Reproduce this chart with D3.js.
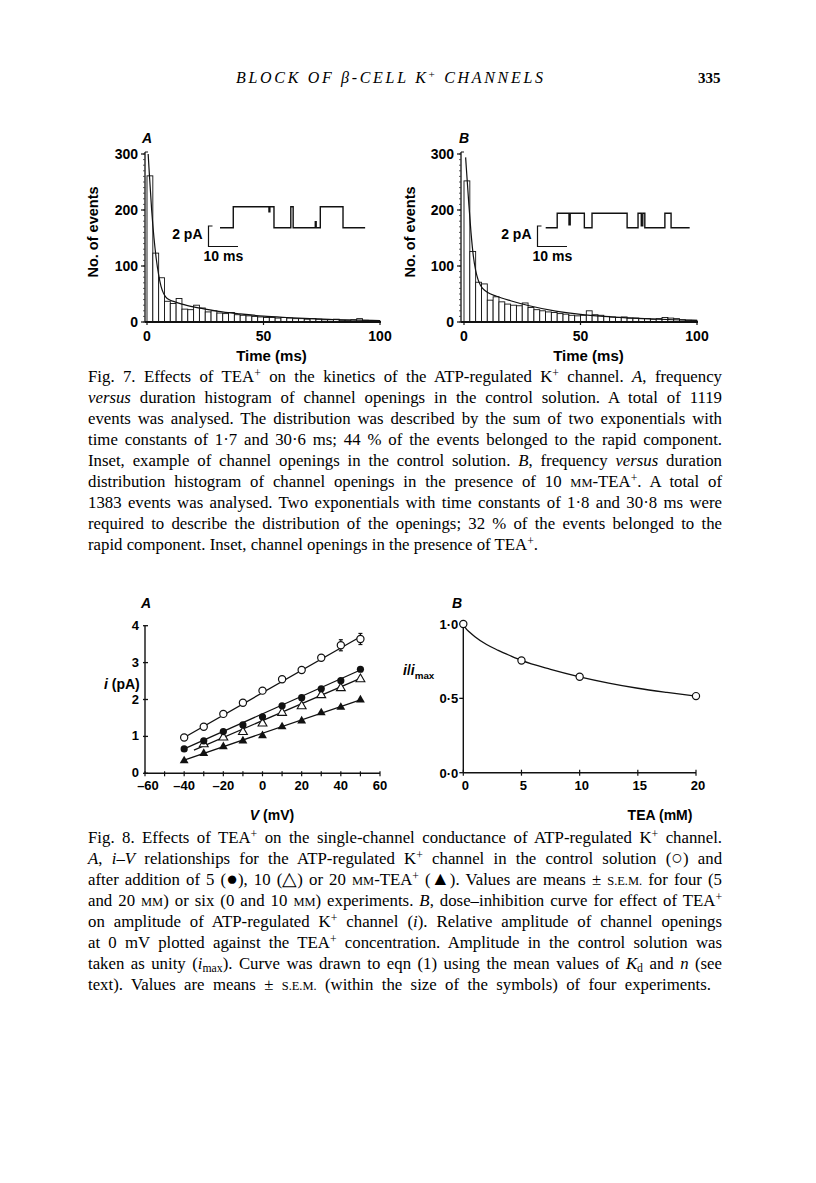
<!DOCTYPE html>
<html><head><meta charset="utf-8">
<script src="https://cdn.jsdelivr.net/npm/d3@7"></script>
<style>body{margin:0;background:#fff}svg{display:block}</style>
</head><body><svg id="c" width="816" height="1183"></svg>
<script>
// ---------------- DATA ----------------
// Fig 7: histogram bin starts (ms), bin width 2.5 ms
const binStarts = [0,2.5,5,7.5,10,12.5,15,17.5,20,22.5,25,27.5,30,32.5,35,37.5,40,42.5,45,47.5,50,52.5,55,57.5,60,62.5,65,67.5,70,72.5,75,77.5,80,82.5,85,87.5,90,92.5,95,97.5];
const binWidth = 2.5;
const histA = [261,123,79,37,33,42,23,22,30,25,18,20,16,15,17,13,12,11,10,9,8,8,7,8,7,6,6,5,6,5,4,4,5,3,3,4,6,3,2,2];
const histB = [252,126,71,68,39,45,36,32,30,29,34,26,22,20,18,17,15,14,12,11,12,20,13,12,10,9,8,9,7,7,6,6,5,6,8,7,6,4,3,3];
const fitA = [[0.5,300],[1,265],[2,200],[3,150],[4,112],[5,84],[6,64],[7,52],[8,45],[10,39],[12,36],[15,32],[20,27],[25,23],[30,19.5],[40,14.5],[50,10.5],[60,8],[70,6],[80,4.5],[90,3.3],[100,2.5]];
const fitB = [[0.7,294],[1,275],[2,215],[3,160],[4,118],[5,92],[6,76],[7,66],[8,60],[10,53],[14,46],[20,38],[28,29],[40,19],[50,13.5],[60,10],[70,7.5],[80,5.5],[90,4],[100,3]];
const histYTicks = [0,100,200,300];
const histXTicks = [0,50,100];
// inset traces: [time ms, current pA] step points
const traceA = [[0,0],[4.5,2.1],[16.6,1.6],[16.9,2.1],[18.3,0],[24,2.1],[24.8,0],[32.3,0.6],[32.6,0],[34,2.1],[41.7,0],[49.2,0]];
const traceB = [[0,0],[3.9,1.45],[7.9,0.3],[8.3,1.45],[13.1,0],[15.7,1.45],[27.6,0],[31.3,1.45],[32.4,0.2],[32.9,1.45],[33.6,0],[40.4,1.45],[42.5,0],[48.8,0]];

// Fig 8A: i-V
const V = [-40,-30,-20,-10,0,10,20,30,40,50];
const iCtrl = [0.97,1.26,1.61,1.91,2.24,2.55,2.80,3.13,3.47,3.64];
const iCtrlErr = [0,0,0,0,0,0,0,0,0.15,0.15];
const iTEA5 = [0.66,0.88,1.13,1.31,1.53,1.83,2.05,2.29,2.51,2.82];
const V10 = [-30,-20,-10,0,10,20,30,40,50];
const iTEA10 = [0.79,0.97,1.12,1.35,1.64,1.82,2.12,2.31,2.55];
const iTEA20 = [0.34,0.54,0.72,0.88,1.02,1.26,1.42,1.64,1.79,1.99];
const fitCtrl = [[-40,0.97],[50,3.70]];
const fit5 = [[-40,0.66],[50,2.80]];
const fit10 = [[-35,0.63],[50,2.57]];
const fit20 = [[-40,0.36],[50,1.99]];
const ivXTicks = [-60,-40,-20,0,20,40,60];
const ivXMinor = [-60,-50,-40,-30,-20,-10,0,10,20,30,40,50,60];
const ivYTicks = [0,1,2,3,4];

// Fig 8B: dose-inhibition
const tea = [0,5,10,20];
const relI = [1.0,0.755,0.645,0.515];
const doseCurve = [[0,1],[0.25,0.967],[0.5,0.948],[1,0.915],[2,0.862],[3,0.823],[4,0.788],[5,0.755],[7.5,0.695],[10,0.645],[12.5,0.603],[15,0.568],[17.5,0.54],[20,0.515]];
const teaTicks = [0,5,10,15,20];
const relTicks = [0,0.5,1.0];

// ---------------- TEXT ----------------
const header = "*BLOCK OF β-CELL K*^{+}* CHANNELS*";
const caption7 = [
 "Fig. 7. Effects of TEA^{+} on the kinetics of the ATP-regulated K^{+} channel. *A*, frequency",
 "*versus* duration histogram of channel openings in the control solution. A total of 1119",
 "events was analysed. The distribution was described by the sum of two exponentials with",
 "time constants of 1·7 and 30·6 ms; 44 % of the events belonged to the rapid component.",
 "Inset, example of channel openings in the control solution. *B*, frequency *versus* duration",
 "distribution histogram of channel openings in the presence of 10 ~mm~-TEA^{+}. A total of",
 "1383 events was analysed. Two exponentials with time constants of 1·8 and 30·8 ms were",
 "required to describe the distribution of the openings; 32 % of the events belonged to the",
 "rapid component. Inset, channel openings in the presence of TEA^{+}."
];
const widths7 = [634,634,634,634,634,634,634,634,0];
const caption8 = [
 "Fig. 8. Effects of TEA^{+} on the single-channel conductance of ATP-regulated K^{+} channel.",
 "*A*, *i*–*V* relationships for the ATP-regulated K^{+} channel in the control solution (@{○}) and",
 "after addition of 5 (@{●}), 10 (@{△}) or 20 ~mm~-TEA^{+} (@{▲}). Values are means ± ~s.e.m.~ for four (5",
 "and 20 ~mm~) or six (0 and 10 ~mm~) experiments. *B*, dose–inhibition curve for effect of TEA^{+}",
 "on amplitude of ATP-regulated K^{+} channel (*i*). Relative amplitude of channel openings",
 "at 0 mV plotted against the TEA^{+} concentration. Amplitude in the control solution was",
 "taken as unity (*i*_{max}). Curve was drawn to eqn (1) using the mean values of *K*_{d} and *n* (see",
 "text). Values are means ± ~s.e.m.~ (within the size of the symbols) of four experiments."
];
const widths8 = [634,634,634,634,634,634,634,623];

// ---------------- DRAW ----------------
const svg = d3.select('#c');
svg.append('rect').attr('width',816).attr('height',1183).attr('fill','#fff');
const SANS = "'Liberation Sans', Arial, Helvetica, sans-serif";
const SERIF = "'Liberation Serif', 'Times New Roman', serif";

function rich(t, str, supShift=5, subShift=3) {
  const re = /\^\{([^}]*)\}|_\{([^}]*)\}|@\{([^}]*)\}|\*([^*]*)\*|~([^~]*)~|([^\^_*~@]+)/g;
  let m, shift = 0;
  while ((m = re.exec(str))) {
    let txt, italic=false, size=null, dy=0;
    if (m[1]!==undefined){ txt=m[1]; size='0.7em'; dy=-supShift; }
    else if (m[2]!==undefined){ txt=m[2]; size='0.7em'; dy=subShift; }
    else if (m[3]!==undefined){ txt=m[3]; size='1.15em'; }
    else if (m[4]!==undefined){ txt=m[4]; italic=true; }
    else if (m[5]!==undefined){ txt=m[5].toUpperCase(); size='0.74em'; }
    else txt=m[6];
    const ts = t.append('tspan').text(txt);
    const need = dy - shift; if (need) ts.attr('dy', need); shift = dy;
    if (italic) ts.attr('font-style','italic');
    if (size) ts.attr('font-size', size);
  }
  return t;
}
function justify(t, width) {
  const natural = t.node().getComputedTextLength();
  const spaces = (t.text().match(/ /g) || []).length;
  if (spaces > 0 && width > natural) t.style('word-spacing', ((width - natural) / spaces) + 'px');
  else if (width < natural) t.attr('textLength', width).attr('lengthAdjust','spacingAndGlyphs');
}

// header
const ht = svg.append('text').attr('x',236).attr('y',83).attr('font-family',SERIF).attr('font-size',16)
  .style('white-space','pre').attr('textLength',307).attr('lengthAdjust','spacing');
rich(ht, header, 5);
svg.append('text').attr('x',698).attr('y',83).attr('font-family',SERIF).attr('font-size',15).attr('font-weight','bold').text('335');

// captions
function caption(lines, widths, y0, step) {
  lines.forEach((s,i) => {
    const t = svg.append('text').attr('x',88).attr('y',y0+i*step).attr('font-family',SERIF)
      .attr('font-size',16.8).style('white-space','pre');
    rich(t, s, 5, 3);
    if (widths[i]) justify(t, widths[i]);
  });
}
caption(caption7, widths7, 382, 21);
caption(caption8, widths8, 843, 21);

// ---------- Fig 7 histograms ----------
function histPanel(opt) {
  const g = svg.append('g');
  const x = d3.scaleLinear([0,100],[opt.x0,opt.x1]);
  const y = d3.scaleLinear([0,300],[322,154]);
  g.selectAll('rect.bar').data(opt.hist).join('rect')
    .attr('x',(d,i)=>x(binStarts[i])).attr('width',x(binWidth)-x(0))
    .attr('y',d=>y(d)).attr('height',d=>y(0)-y(d))
    .attr('fill','#fff').attr('stroke','#111').attr('stroke-width',0.9);
  g.append('path').datum(opt.fit)
    .attr('d', d3.line().x(d=>x(d[0])).y(d=>y(d[1])).curve(d3.curveMonotoneX))
    .attr('fill','none').attr('stroke','#111').attr('stroke-width',1.2);
  const ax = opt.ax;
  g.append('line').attr('x1',ax).attr('x2',ax).attr('y1',y(0)).attr('y2',y(300)-2).attr('stroke','#111').attr('stroke-width',1.3);
  g.append('line').attr('x1',ax).attr('x2',ax+3).attr('y1',y(300)-2).attr('y2',y(300)-2).attr('stroke','#111').attr('stroke-width',1);
  g.selectAll('line.mn').data(d3.range(0,301,10)).join('line')
    .attr('x1',ax-2).attr('x2',ax).attr('y1',d=>y(d)).attr('y2',d=>y(d)).attr('stroke','#333').attr('stroke-width',0.8);
  g.selectAll('line.mj').data(histYTicks).join('line')
    .attr('x1',ax-4).attr('x2',ax).attr('y1',d=>y(d)).attr('y2',d=>y(d)).attr('stroke','#111').attr('stroke-width',1.2);
  g.selectAll('text.yt').data(histYTicks).join('text')
    .attr('x',ax-7).attr('y',d=>y(d)+5).attr('text-anchor','end')
    .attr('font-family',SANS).attr('font-weight','bold').attr('font-size',14).text(d=>d);
  g.append('line').attr('x1',ax).attr('x2',x(100)+1).attr('y1',y(0)).attr('y2',y(0)).attr('stroke','#111').attr('stroke-width',2);
  g.selectAll('line.xt').data(histXTicks).join('line')
    .attr('x1',d=>x(d)).attr('x2',d=>x(d)).attr('y1',y(0)).attr('y2',y(0)+3).attr('stroke','#111').attr('stroke-width',1.2);
  g.selectAll('text.xt').data(histXTicks).join('text')
    .attr('x',d=>x(d)).attr('y',341).attr('text-anchor','middle')
    .attr('font-family',SANS).attr('font-weight','bold').attr('font-size',14).text(d=>d);
  g.append('text').attr('x',(x(0)+x(100))/2+8).attr('y',361).attr('text-anchor','middle')
    .attr('font-family',SANS).attr('font-weight','bold').attr('font-size',15).text('Time (ms)');
  g.append('text').attr('transform',`translate(${opt.ylx},232) rotate(-90)`).attr('text-anchor','middle')
    .attr('font-family',SANS).attr('font-weight','bold').attr('font-size',14.5).text('No. of events');
  g.append('text').attr('x',opt.lx).attr('y',143).attr('text-anchor','middle')
    .attr('font-family',SANS).attr('font-weight','bold').attr('font-style','italic').attr('font-size',14).text(opt.letter);
  const tx = d3.scaleLinear([0,10],[opt.tr0, opt.tr0+29.5]);
  const ty = d3.scaleLinear([0,2],[227.7,207.7]);
  g.append('path').datum(opt.trace)
    .attr('d', d3.line().x(d=>tx(d[0])).y(d=>ty(d[1])).curve(d3.curveStepAfter))
    .attr('fill','none').attr('stroke','#111').attr('stroke-width',1.4);
  const sb = opt.sb;
  g.append('path').attr('d',`M${sb+4},226 H${sb} V246.5 H${sb+29.5}`).attr('fill','none').attr('stroke','#111').attr('stroke-width',1.2);
  g.append('text').attr('x',sb-6).attr('y',239).attr('text-anchor','end')
    .attr('font-family',SANS).attr('font-weight','bold').attr('font-size',14).text('2 pA');
  g.append('text').attr('x',sb-5).attr('y',261)
    .attr('font-family',SANS).attr('font-weight','bold').attr('font-size',14).text('10 ms');
}
histPanel({x0:147,x1:380,ax:145,hist:histA,fit:fitA,ylx:98,lx:147,letter:'A',trace:traceA,tr0:220,sb:208.5});
histPanel({x0:464,x1:697,ax:461,hist:histB,fit:fitB,ylx:415,lx:464,letter:'B',trace:traceB,tr0:545.7,sb:537.5});

// ---------- Fig 8A ----------
(function(){
  const g = svg.append('g');
  const x = d3.scaleLinear([-60,60],[145,380]);
  const y = d3.scaleLinear([0,4],[773.3,625.7]);
  const ln = d3.line().x(d=>x(d[0])).y(d=>y(d[1]));
  g.append('line').attr('x1',x(-60)).attr('x2',x(-60)).attr('y1',y(0)).attr('y2',y(4)).attr('stroke','#111').attr('stroke-width',1.4);
  g.append('line').attr('x1',x(-60)).attr('x2',x(60)).attr('y1',y(0)).attr('y2',y(0)).attr('stroke','#111').attr('stroke-width',1.4);
  g.selectAll('line.yt').data(ivYTicks).join('line')
    .attr('x1',x(-60)-2).attr('x2',x(-60)+3).attr('y1',d=>y(d)).attr('y2',d=>y(d)).attr('stroke','#111').attr('stroke-width',1.3);
  g.selectAll('line.xt').data(ivXMinor).join('line')
    .attr('x1',d=>x(d)).attr('x2',d=>x(d)).attr('y1',y(0)-2).attr('y2',y(0)+3).attr('stroke','#111').attr('stroke-width',1.2);
  g.selectAll('text.yt').data(ivYTicks).join('text')
    .attr('x',x(-60)-6).attr('y',d=>y(d)+4).attr('text-anchor','end')
    .attr('font-family',SANS).attr('font-weight','bold').attr('font-size',13).text(d=>d);
  g.selectAll('text.xt').data(ivXTicks).join('text')
    .attr('x',d=>x(d)+(d===-60?3:0)).attr('y',790).attr('text-anchor','middle')
    .attr('font-family',SANS).attr('font-weight','bold').attr('font-size',13).text(d=>d<0?'–'+(-d):d);
  [fitCtrl,fit5,fit10,fit20].forEach(f=>g.append('path').attr('d',ln(f)).attr('stroke','#111').attr('stroke-width',1.3).attr('fill','none'));
  V.forEach((v,i)=>{ if(iCtrlErr[i]>0){
    g.append('line').attr('x1',x(v)).attr('x2',x(v)).attr('y1',y(iCtrl[i]-iCtrlErr[i])).attr('y2',y(iCtrl[i]+iCtrlErr[i])).attr('stroke','#111').attr('stroke-width',1.2);
    [iCtrl[i]-iCtrlErr[i], iCtrl[i]+iCtrlErr[i]].forEach(e=>g.append('line').attr('x1',x(v)-2).attr('x2',x(v)+2).attr('y1',y(e)).attr('y2',y(e)).attr('stroke','#111').attr('stroke-width',1.2));
  }});
  const tri = d3.symbol().type(d3.symbolTriangle).size(34)();
  g.selectAll('path.t20').data(V.map((v,i)=>[v,iTEA20[i]])).join('path').attr('d',tri)
    .attr('transform',d=>`translate(${x(d[0])},${y(d[1])})`).attr('fill','#111');
  g.selectAll('path.t10').data(V10.map((v,i)=>[v,iTEA10[i]])).join('path').attr('d',tri)
    .attr('transform',d=>`translate(${x(d[0])},${y(d[1])})`).attr('fill','#fff').attr('stroke','#111').attr('stroke-width',1.1);
  g.selectAll('circle.t5').data(V.map((v,i)=>[v,iTEA5[i]])).join('circle').attr('r',3.6)
    .attr('cx',d=>x(d[0])).attr('cy',d=>y(d[1])).attr('fill','#111');
  g.selectAll('circle.c').data(V.map((v,i)=>[v,iCtrl[i]])).join('circle').attr('r',3.6)
    .attr('cx',d=>x(d[0])).attr('cy',d=>y(d[1])).attr('fill','#fff').attr('stroke','#111').attr('stroke-width',1.2);
  g.append('text').attr('x',146).attr('y',608).attr('text-anchor','middle')
    .attr('font-family',SANS).attr('font-weight','bold').attr('font-style','italic').attr('font-size',14).text('A');
  rich(g.append('text').attr('x',104).attr('y',689).attr('font-family',SANS).attr('font-weight','bold').attr('font-size',14).style('white-space','pre'), '*i* (pA)');
  rich(g.append('text').attr('x',272).attr('y',820).attr('text-anchor','middle').attr('font-family',SANS).attr('font-weight','bold').attr('font-size',14).style('white-space','pre'), '*V* (mV)');
})();

// ---------- Fig 8B ----------
(function(){
  const g = svg.append('g');
  const x = d3.scaleLinear([0,20],[463.3,696]);
  const y = d3.scaleLinear([0,1],[772.7,624]);
  g.append('line').attr('x1',x(0)).attr('x2',x(0)).attr('y1',y(0)).attr('y2',y(1)).attr('stroke','#111').attr('stroke-width',1.4);
  g.append('line').attr('x1',x(0)).attr('x2',x(20)).attr('y1',y(0)).attr('y2',y(0)).attr('stroke','#111').attr('stroke-width',1.4);
  g.selectAll('line.yt').data(relTicks).join('line')
    .attr('x1',x(0)-4).attr('x2',x(0)).attr('y1',d=>y(d)).attr('y2',d=>y(d)).attr('stroke','#111').attr('stroke-width',1.3);
  g.selectAll('line.xt').data(teaTicks).join('line')
    .attr('x1',d=>x(d)).attr('x2',d=>x(d)).attr('y1',y(0)-3).attr('y2',y(0)+3).attr('stroke','#111').attr('stroke-width',1.2);
  g.selectAll('text.yt').data(relTicks).join('text')
    .attr('x',x(0)-5).attr('y',d=>y(d)+5).attr('text-anchor','end')
    .attr('font-family',SANS).attr('font-weight','bold').attr('font-size',13).text(d=>d3.format('.1f')(d).replace('.','·'));
  g.selectAll('text.xt').data(teaTicks).join('text')
    .attr('x',d=>x(d)+2).attr('y',790).attr('text-anchor','middle')
    .attr('font-family',SANS).attr('font-weight','bold').attr('font-size',13).text(d=>d);
  g.append('path').datum(doseCurve)
    .attr('d', d3.line().x(d=>x(d[0])).y(d=>y(d[1])).curve(d3.curveMonotoneX))
    .attr('fill','none').attr('stroke','#111').attr('stroke-width',1.3);
  g.selectAll('circle.p').data(tea.map((t,i)=>[t,relI[i]])).join('circle').attr('r',3.6)
    .attr('cx',d=>x(d[0])).attr('cy',d=>y(d[1])).attr('fill','#fff').attr('stroke','#111').attr('stroke-width',1.2);
  g.append('text').attr('x',457).attr('y',608).attr('text-anchor','middle')
    .attr('font-family',SANS).attr('font-weight','bold').attr('font-style','italic').attr('font-size',14).text('B');
  rich(g.append('text').attr('x',403).attr('y',675).attr('font-family',SANS).attr('font-weight','bold').attr('font-size',14).style('white-space','pre'), '*i*/*i*_{max}', 5, 4);
  g.append('text').attr('x',660).attr('y',820).attr('text-anchor','middle')
    .attr('font-family',SANS).attr('font-weight','bold').attr('font-size',14).text('TEA (mM)');
})();
</script></body></html>
